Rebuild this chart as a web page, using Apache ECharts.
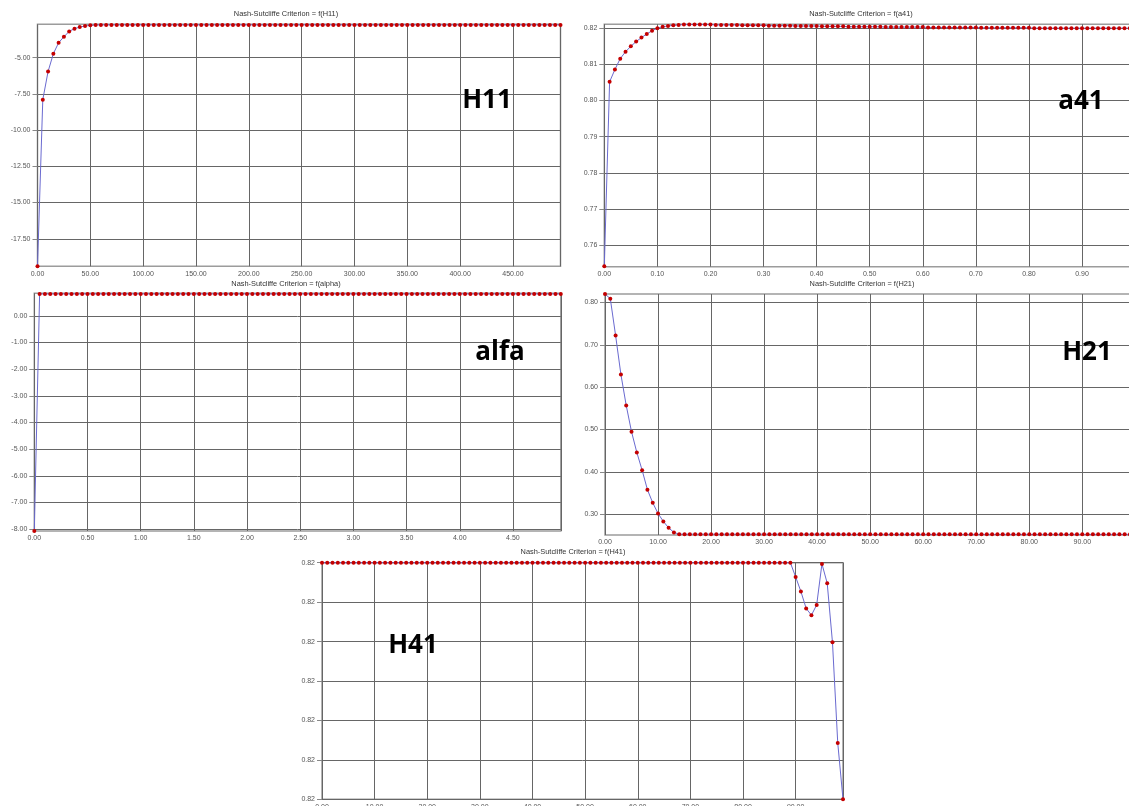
<!DOCTYPE html>
<html>
<head>
<meta charset="utf-8">
<script src="https://cdn.jsdelivr.net/npm/echarts@6/dist/echarts.min.js"></script>
<style>
html,body{margin:0;padding:0;background:#fff;}
#chart{width:1129px;height:806px;}
</style>
</head>
<body>
<div id="chart"></div>
<script>
// ---------- data ----------
const panelTitles = ["Nash-Sutcliffe Criterion = f(H11)", "Nash-Sutcliffe Criterion = f(a41)",
  "Nash-Sutcliffe Criterion = f(alpha)", "Nash-Sutcliffe Criterion = f(H21)", "Nash-Sutcliffe Criterion = f(H41)"];
const panelNames = ["H11", "a41", "alfa", "H21", "H41"];

// parameter grids: start + step (100 samples each)
const h11Step = 5, a41Step = 0.01, alfaStep = 0.05, h21Step = 1, h41Step = 1;

// y tick values (labels drawn as value.toFixed(2))
const h11YTicks = [-17.5, -15, -12.5, -10, -7.5, -5];
const a41YTicks = [0.76, 0.77, 0.78, 0.79, 0.80, 0.81, 0.82];
const alfaYTicks = [-8, -7, -6, -5, -4, -3, -2, -1, 0];
const h21YTicks = [0.3, 0.4, 0.5, 0.6, 0.7, 0.8];
const h41YTicks = [0.82094, 0.82095, 0.82096, 0.82097, 0.82098, 0.82099, 0.82100];

const h11Values = [-19.4, -7.9, -5.96, -4.73, -3.97, -3.56, -3.19, -3.0, -2.89, -2.82, -2.77, -2.75,
  -2.74, -2.74, -2.74, -2.74, -2.74, -2.74, -2.74, -2.74, -2.74, -2.74, -2.74,
  -2.74, -2.74, -2.74, -2.74, -2.74, -2.74, -2.74, -2.74, -2.74, -2.74, -2.74,
  -2.74, -2.74, -2.74, -2.74, -2.74, -2.74, -2.74, -2.74, -2.74, -2.74, -2.74,
  -2.74, -2.74, -2.74, -2.74, -2.74, -2.74, -2.74, -2.74, -2.74, -2.74, -2.74,
  -2.74, -2.74, -2.74, -2.74, -2.74, -2.74, -2.74, -2.74, -2.74, -2.74, -2.74,
  -2.74, -2.74, -2.74, -2.74, -2.74, -2.74, -2.74, -2.74, -2.74, -2.74, -2.74,
  -2.74, -2.74, -2.74, -2.74, -2.74, -2.74, -2.74, -2.74, -2.74, -2.74, -2.74,
  -2.74, -2.74, -2.74, -2.74, -2.74, -2.74, -2.74, -2.74, -2.74, -2.74, -2.74];

const a41Values = [0.7542, 0.8051, 0.8085, 0.8115, 0.8134, 0.8149, 0.8162, 0.8173, 0.8183, 0.8192,
  0.8199, 0.8203, 0.8205, 0.8207, 0.8208, 0.8209,
  0.8209, 0.8209, 0.8209, 0.8209, 0.8209,
  0.8208, 0.8208, 0.8208, 0.8208, 0.8208,
  0.8207, 0.8207, 0.8207, 0.8207, 0.8207,
  0.8206, 0.8206, 0.8206, 0.8206, 0.8206,
  0.8205, 0.8205, 0.8205, 0.8205, 0.8205,
  0.8204, 0.8204, 0.8204, 0.8204, 0.8204,
  0.8203, 0.8203, 0.8203, 0.8203, 0.8203, 0.8203, 0.8203,
  0.8202, 0.8202, 0.8202, 0.8202, 0.8202, 0.8202, 0.8202, 0.8202,
  0.8201, 0.8201, 0.8201, 0.8201, 0.8201, 0.8201, 0.8201, 0.8201, 0.8201, 0.8201,
  0.8200, 0.8200, 0.8200, 0.8200, 0.8200, 0.8200, 0.8200, 0.8200, 0.8200, 0.8200,
  0.8199, 0.8199, 0.8199, 0.8199, 0.8199, 0.8199, 0.8199, 0.8199, 0.8199, 0.8199,
  0.8199, 0.8199, 0.8199, 0.8199, 0.8199, 0.8199, 0.8199, 0.8199, 0.8199];

const alfaValues = [-8.07,
  0.82, 0.82, 0.82, 0.82, 0.82, 0.82, 0.82, 0.82, 0.82, 0.82, 0.82,
  0.82, 0.82, 0.82, 0.82, 0.82, 0.82, 0.82, 0.82, 0.82, 0.82, 0.82,
  0.82, 0.82, 0.82, 0.82, 0.82, 0.82, 0.82, 0.82, 0.82, 0.82, 0.82,
  0.82, 0.82, 0.82, 0.82, 0.82, 0.82, 0.82, 0.82, 0.82, 0.82, 0.82,
  0.82, 0.82, 0.82, 0.82, 0.82, 0.82, 0.82, 0.82, 0.82, 0.82, 0.82,
  0.82, 0.82, 0.82, 0.82, 0.82, 0.82, 0.82, 0.82, 0.82, 0.82, 0.82,
  0.82, 0.82, 0.82, 0.82, 0.82, 0.82, 0.82, 0.82, 0.82, 0.82, 0.82,
  0.82, 0.82, 0.82, 0.82, 0.82, 0.82, 0.82, 0.82, 0.82, 0.82, 0.82,
  0.82, 0.82, 0.82, 0.82, 0.82, 0.82, 0.82, 0.82, 0.82, 0.82, 0.82];

const h21Values = [0.820, 0.809, 0.722, 0.630, 0.557, 0.495, 0.446, 0.404, 0.358, 0.327,
  0.302, 0.283, 0.268, 0.257,
  0.2530, 0.2530, 0.2530, 0.2530, 0.2530, 0.2530, 0.2530, 0.2530,
  0.2530, 0.2530, 0.2530, 0.2530, 0.2530, 0.2530, 0.2530, 0.2530,
  0.2530, 0.2530, 0.2530, 0.2530, 0.2530, 0.2530, 0.2530, 0.2530,
  0.2530, 0.2530, 0.2530, 0.2530, 0.2530, 0.2530, 0.2530, 0.2530,
  0.2525, 0.2525, 0.2525, 0.2525, 0.2525, 0.2525, 0.2525, 0.2525, 0.2525,
  0.2525, 0.2525, 0.2525, 0.2525, 0.2525, 0.2525, 0.2525, 0.2525, 0.2525,
  0.2525, 0.2525, 0.2525, 0.2525, 0.2525, 0.2525, 0.2525, 0.2525, 0.2525,
  0.2525, 0.2525, 0.2525, 0.2525, 0.2525, 0.2525, 0.2525, 0.2525, 0.2525,
  0.2525, 0.2525, 0.2525, 0.2525, 0.2525, 0.2525, 0.2525, 0.2525, 0.2525,
  0.2525, 0.2525, 0.2525, 0.2525, 0.2525, 0.2525, 0.2525, 0.2525, 0.2525];

const h41Values = [
  0.82100, 0.82100, 0.82100, 0.82100, 0.82100, 0.82100, 0.82100, 0.82100, 0.82100, 0.82100,
  0.82100, 0.82100, 0.82100, 0.82100, 0.82100, 0.82100, 0.82100, 0.82100, 0.82100, 0.82100,
  0.82100, 0.82100, 0.82100, 0.82100, 0.82100, 0.82100, 0.82100, 0.82100, 0.82100, 0.82100,
  0.82100, 0.82100, 0.82100, 0.82100, 0.82100, 0.82100, 0.82100, 0.82100, 0.82100, 0.82100,
  0.82100, 0.82100, 0.82100, 0.82100, 0.82100, 0.82100, 0.82100, 0.82100, 0.82100, 0.82100,
  0.82100, 0.82100, 0.82100, 0.82100, 0.82100, 0.82100, 0.82100, 0.82100, 0.82100, 0.82100,
  0.82100, 0.82100, 0.82100, 0.82100, 0.82100, 0.82100, 0.82100, 0.82100, 0.82100, 0.82100,
  0.82100, 0.82100, 0.82100, 0.82100, 0.82100, 0.82100, 0.82100, 0.82100, 0.82100, 0.82100,
  0.82100, 0.82100, 0.82100, 0.82100, 0.82100, 0.82100, 0.82100, 0.82100, 0.82100, 0.82100,
  0.8209964, 0.8209927, 0.8209884, 0.8209867, 0.8209893, 0.8209997, 0.8209948, 0.8209798, 0.8209543, 0.8209400];

// ---------- layout / styling ----------
const series = [
  {vals: h11Values, step: h11Step},
  {vals: a41Values, step: a41Step},
  {vals: alfaValues, step: alfaStep},
  {vals: h21Values, step: h21Step},
  {vals: h41Values, step: h41Step}
];
const grids = [
  {left: 37.5, top: 24.3, width: 523, height: 242},
  {left: 604.3, top: 24.2, width: 525.5, height: 242.5},
  {left: 34.3, top: 293.3, width: 526.5, height: 237.7},
  {left: 605, top: 294, width: 525, height: 241},
  {left: 322, top: 562.7, width: 521, height: 236.6}
];
const xCfg = [
  {max: 495, interval: 50},
  {max: 0.99, interval: 0.1},
  {max: 4.95, interval: 0.5},
  {max: 99, interval: 10},
  {max: 99, interval: 10}
];
const yCfg = [
  {min: -19.4, max: -2.7, ticks: h11YTicks},
  {min: 0.7541, max: 0.8210, ticks: a41YTicks},
  {min: -8.07, max: 0.845, ticks: alfaYTicks},
  {min: 0.251, max: 0.82, ticks: h21YTicks},
  {min: 0.82094, max: 0.82100, ticks: h41YTicks}
];
const titlePos = [[286, 14], [861, 13.5], [286, 284], [862, 284], [573, 552]];
const namePos = [[487, 88], [1081, 89], [500, 340], [1087, 340], [413, 633]];

const gridLine = {color: '#666', width: 1};
const fmt = v => Number(v).toFixed(2);

const option = {
  animation: false,
  backgroundColor: '#fff',
  grid: grids.map(g => Object.assign({
    show: true, borderColor: '#9c9c9c', borderWidth: 1.5, backgroundColor: '#fff',
    containLabel: false, outerBoundsMode: 'none'
  }, g)),
  xAxis: xCfg.map((c, i) => ({
    type: 'value', gridIndex: i, min: 0, max: c.max, interval: c.interval,
    axisLine: {show: false}, axisTick: {show: false},
    axisLabel: {fontSize: 7, color: '#555', margin: 4, fontFamily: 'Liberation Sans',
      formatter: fmt, showMinLabel: true, showMaxLabel: false, hideOverlap: false},
    splitLine: {show: true, lineStyle: gridLine}
  })),
  yAxis: yCfg.map((c, i) => ({
    type: 'value', gridIndex: i, min: c.min, max: c.max, scale: true,
    axisLine: {show: false},
    axisTick: {show: true, length: 5, lineStyle: {color: '#888'}, customValues: c.ticks},
    axisLabel: {fontSize: 7, color: '#555', margin: 7, fontFamily: 'Liberation Sans',
      formatter: fmt, hideOverlap: false, customValues: c.ticks},
    splitLine: {show: true, lineStyle: gridLine}
  })),
  series: series.map((s, i) => ({
    type: 'line', xAxisIndex: i, yAxisIndex: i,
    data: s.vals.map((v, k) => [k * s.step, v]),
    symbol: 'circle', symbolSize: 4, showSymbol: true, showAllSymbol: true,
    clip: false,
    itemStyle: {color: '#c40000'},
    lineStyle: {color: '#6a6ad0', width: 1},
    emphasis: {disabled: true}
  })),
  graphic: [
    ...panelTitles.map((t, i) => ({
      type: 'text', x: titlePos[i][0], y: titlePos[i][1], z: 100,
      style: {text: t, fill: '#333', font: '7.4px "Liberation Sans"', align: 'center', verticalAlign: 'middle'}
    })),
    ...panelNames.map((t, i) => ({
      type: 'text', x: namePos[i][0], y: namePos[i][1], z: 100,
      style: {text: t, fill: '#000', font: 'bold 26px "Open Sans"', align: 'center', verticalAlign: 'alphabetic'}
    }))
  ]
};

const chart = echarts.init(document.getElementById('chart'), null, {renderer: 'canvas'});
chart.setOption(option);
</script>
</body>
</html>
